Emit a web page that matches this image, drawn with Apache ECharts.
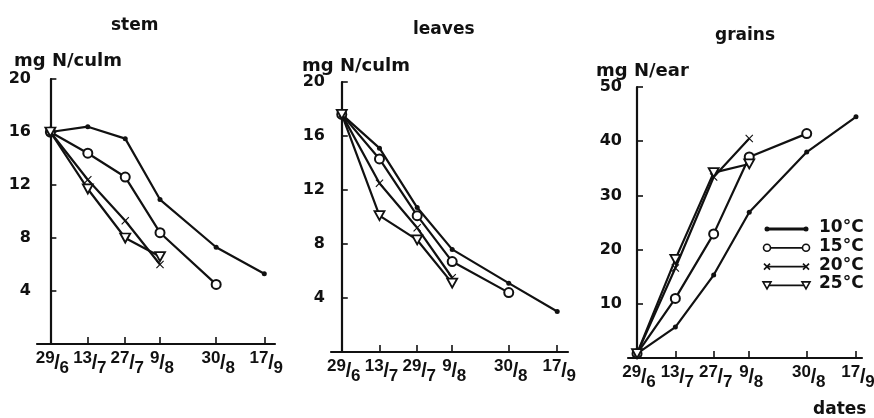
<!DOCTYPE html>
<html>
<head>
<meta charset="utf-8">
<script src="https://cdn.jsdelivr.net/npm/echarts@6/dist/echarts.min.js"></script>
<style>
html,body{margin:0;padding:0;background:#fff;}
#chart{width:874px;height:418px;}
</style>
</head>
<body>
<div id="chart"></div>
<script>
// Sampling dates, as days after 29 June
var dayOffsets = [0, 14, 28, 41, 62, 80];
var stemDateLabels   = ['29/6', '13/7', '27/7', '9/8', '30/8', '17/9'];
var leavesDateLabels = ['29/6', '13/7', '29/7', '9/8', '30/8', '17/9'];
var grainsDateLabels = ['29/6', '13/7', '27/7', '9/8', '30/8', '17/9'];

var temperatures = ['10°C', '15°C', '20°C', '25°C'];

// Stem nitrogen, mg N/culm
var stem10 = [16.0, 16.4, 15.5, 10.9, 7.3, 5.3];
var stem15 = [16.0, 14.4, 12.6, 8.4, 4.5];
var stem20 = [16.0, 12.4, 9.3, 6.0];
var stem25 = [16.0, 11.7, 8.0, 6.6];

// Leaf nitrogen, mg N/culm
var leaves10 = [17.6, 15.1, 10.7, 7.6, 5.1, 3.0];
var leaves15 = [17.6, 14.3, 10.1, 6.7, 4.4];
var leaves20 = [17.6, 12.5, 9.2, 5.5];
var leaves25 = [17.6, 10.1, 8.3, 5.1];

// Grain nitrogen, mg N/ear
var grains10 = [0.8, 5.7, 15.3, 26.9, 38.0, 44.5];
var grains15 = [0.8, 11.0, 22.9, 37.1, 41.4];
var grains20 = [0.8, 16.6, 33.4, 40.5];
var grains25 = [0.8, 18.2, 34.2, 35.8];

var FONT = 'DejaVu Sans';
var NUMFONT = 'Liberation Sans';
var INK = '#111';

var xPath = 'path://M0,1 L1,0 L5,4 L9,0 L10,1 L6,5 L10,9 L9,10 L5,6 L1,10 L0,9 L4,5 Z';
var triPath = 'path://M0,0 L10,0 L5,9 Z';

var markerStyles = [
  { symbol: 'circle', symbolSize: 5, itemStyle: { color: INK } },
  { symbol: 'emptyCircle', symbolSize: 9, itemStyle: { color: INK, borderWidth: 1.8 } },
  { symbol: xPath, symbolSize: 8, itemStyle: { color: INK } },
  { symbol: triPath, symbolSize: [10, 9], itemStyle: { color: '#fff', borderColor: INK, borderWidth: 1.8 } }
];

function pairs(values) {
  return values.map(function (v, i) { return [dayOffsets[i], v]; });
}

// "29/6" drawn as a slanted fraction: numerator high, denominator low and to the right
function fracLabel(txt) {
  var p = txt.split('/');
  return '{n|' + p[0] + '}{s|/}{d|' + p[1] + '}';
}

var richFrac = {
  n: { fontFamily: NUMFONT, fontWeight: 'bold', fontSize: 17, color: INK, verticalAlign: 'top', lineHeight: 15 },
  s: { fontFamily: NUMFONT, fontWeight: 'bold', fontSize: 20, color: INK, verticalAlign: 'middle', lineHeight: 27, width: 5 },
  d: { fontFamily: NUMFONT, fontWeight: 'bold', fontSize: 17, color: INK, verticalAlign: 'bottom', lineHeight: 15 }
};

var grids = [
  { left: 37, top: 79, width: 238, height: 265 },
  { left: 331, top: 82, width: 237, height: 270 },
  { left: 628, top: 87, width: 234, height: 271 }
];
var xRanges = [[-5, 84], [-4, 84], [-3.3, 82.2]];
var dateLabelSets = [stemDateLabels, leavesDateLabels, grainsDateLabels];
var yMax = [20, 20, 50];
var yStep = [4, 4, 10];

var xAxes = grids.map(function (g, i) {
  return {
    type: 'value', gridIndex: i, min: xRanges[i][0], max: xRanges[i][1],
    splitLine: { show: false },
    axisLine: { lineStyle: { color: INK, width: 2.2 } },
    axisTick: { show: true, inside: true, length: 7, interval: 0, customValues: dayOffsets, lineStyle: { color: INK, width: 1.6 } },
    axisLabel: { show: false }
  };
});

var yAxes = grids.map(function (g, i) {
  return {
    type: 'value', gridIndex: i, min: 0, max: yMax[i], interval: yStep[i],
    splitLine: { show: false },
    axisLine: { show: true, lineStyle: { color: INK, width: 2.2 } },
    axisTick: { show: true, inside: true, length: 6, lineStyle: { color: INK, width: 1.6 } },
    axisLabel: {
      fontFamily: FONT, fontWeight: 'bold', fontSize: 16, color: INK, margin: 6,
      formatter: function (v) { return v === 0 ? '' : String(v); }
    }
  };
});

var panelData = [
  [stem10, stem15, stem20, stem25],
  [leaves10, leaves15, leaves20, leaves25],
  [grains10, grains15, grains20, grains25]
];

var series = [];
panelData.forEach(function (set, p) {
  set.forEach(function (vals, t) {
    var m = markerStyles[t];
    series.push({
      type: 'line', name: temperatures[t], xAxisIndex: p, yAxisIndex: p,
      data: pairs(vals), symbol: m.symbol, symbolSize: m.symbolSize,
      showAllSymbol: true, animation: false,
      lineStyle: { color: INK, width: 2.2 },
      itemStyle: m.itemStyle, z: 2 + t
    });
  });
  // Date labels under each sampling date
  var labels = dateLabelSets[p];
  series.push({
    type: 'scatter', name: 'dates', xAxisIndex: p, yAxisIndex: p,
    data: dayOffsets.map(function (d) { return [d, 0]; }),
    symbolSize: 0, silent: true, animation: false, clip: false,
    label: {
      show: true, position: 'bottom', distance: 6, offset: [2, 0],
      color: INK, opacity: 1,
      formatter: function (params) { return fracLabel(labels[params.dataIndex]); },
      rich: richFrac
    }
  });
});

// Legend rows: line with a marker at each end, then the temperature
var legendLeft = 767, legendRight = 806, legendTop = 229, legendStep = 18.8;
var legendEls = [];
temperatures.forEach(function (name, t) {
  var y = legendTop + t * legendStep;
  legendEls.push({ type: 'line', shape: { x1: legendLeft, y1: y, x2: legendRight, y2: y }, style: { stroke: INK, lineWidth: t === 0 ? 3 : 1.8 } });
  [legendLeft, legendRight].forEach(function (x) {
    if (t === 0) {
      legendEls.push({ type: 'circle', shape: { cx: x, cy: y, r: 2.5 }, style: { fill: INK } });
    } else if (t === 1) {
      legendEls.push({ type: 'circle', shape: { cx: x, cy: y, r: 3.5 }, style: { fill: '#fff', stroke: INK, lineWidth: 1.6 } });
    } else if (t === 2) {
      legendEls.push({ type: 'line', shape: { x1: x - 3, y1: y - 3, x2: x + 3, y2: y + 3 }, style: { stroke: INK, lineWidth: 1.6 } });
      legendEls.push({ type: 'line', shape: { x1: x - 3, y1: y + 3, x2: x + 3, y2: y - 3 }, style: { stroke: INK, lineWidth: 1.6 } });
    } else {
      legendEls.push({ type: 'polygon', shape: { points: [[x - 4, y - 3.5], [x + 4, y - 3.5], [x, y + 3.5]] }, style: { fill: '#fff', stroke: INK, lineWidth: 1.6 } });
    }
  });
  legendEls.push({ type: 'text', left: 819, top: y - 10, style: { text: name, font: 'bold 17px ' + FONT, fill: INK } });
});

var titleStyle = { fontFamily: FONT, fontSize: 17, fontWeight: 'bold', color: INK };
var unitStyle = { fontFamily: FONT, fontSize: 18, fontWeight: 'bold', color: INK };
var option = {
  backgroundColor: '#fff',
  animation: false,
  title: [
    { text: 'stem', left: 106, top: 12, textStyle: titleStyle },
    { text: 'leaves', left: 408, top: 16, textStyle: titleStyle },
    { text: 'grains', left: 710, top: 22, textStyle: titleStyle },
    { text: 'mg N/culm', left: 9, top: 47, textStyle: unitStyle },
    { text: 'mg N/culm', left: 297, top: 52, textStyle: unitStyle },
    { text: 'mg N/ear', left: 591, top: 57, textStyle: unitStyle },
    { text: 'dates', left: 808, top: 396, textStyle: titleStyle }
  ],
  grid: grids,
  xAxis: xAxes,
  yAxis: yAxes,
  series: series,
  graphic: legendEls
};

var chart = echarts.init(document.getElementById('chart'), null, { renderer: 'canvas' });
chart.setOption(option);
</script>
</body>
</html>
